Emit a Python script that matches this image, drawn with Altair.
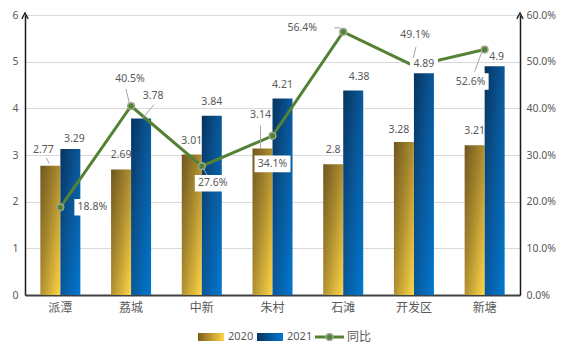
import altair as alt
import pandas as pd

# ---------------- data ----------------
categories = ["派潭", "荔城", "中新", "朱村", "石滩", "开发区", "新塘"]
series_names = ["2020", "2021"]
values_2020 = [2.77, 2.69, 3.01, 3.14, 2.80, 3.28, 3.21]
values_2021 = [3.13, 3.78, 3.84, 4.21, 4.38, 4.75, 4.90]   # bar heights as drawn
labels_2020 = ["2.77", "2.69", "3.01", "3.14", "2.8", "3.28", "3.21"]
labels_2021 = ["3.29", "3.78", "3.84", "4.21", "4.38", "4.89", "4.9"]
yoy_values = [0.188, 0.405, 0.276, 0.341, 0.564, 0.491, 0.526]
yoy_labels = ["18.8%", "40.5%", "27.6%", "34.1%", "56.4%", "49.1%", "52.6%"]
left_ticks = [0, 1, 2, 3, 4, 5, 6]
right_ticks = [0, 0.1, 0.2, 0.3, 0.4, 0.5, 0.6]

bars_df = pd.DataFrame({
    "cat": categories * 2,
    "series": [series_names[0]] * 7 + [series_names[1]] * 7,
    "value": values_2020 + values_2021,
    "label": labels_2020 + labels_2021,
})
bars_df["key"] = bars_df["cat"] + "|" + bars_df["series"]
line_df = pd.DataFrame({"cat": categories, "pct": yoy_values, "label": yoy_labels})

# ---------------- styles ----------------
W, H = 495, 280
TXT = "#595959"
NUM_FONT = "Noto Sans"
CJK_FONT = "Noto Sans CJK SC"
GREEN = "#548235"
LEADER = "#A6A6A6"
BOX = "M-1,-0.46H1V0.46H-1Z"

gold = alt.Gradient(gradient="linear", x1=0, y1=0, x2=1, y2=1, stops=[
    alt.GradientStop(color="#6F5620", offset=0),
    alt.GradientStop(color="#A8892E", offset=0.45),
    alt.GradientStop(color="#FFD646", offset=1)])
blue = alt.Gradient(gradient="linear", x1=0, y1=0, x2=1, y2=1, stops=[
    alt.GradientStop(color="#06345F", offset=0),
    alt.GradientStop(color="#0A5595", offset=0.45),
    alt.GradientStop(color="#0078D0", offset=1)])

x_enc = alt.X("cat:N", sort=categories,
              scale=alt.Scale(domain=categories, paddingInner=0.434, paddingOuter=0.217),
              axis=alt.Axis(title=None, labelAngle=0, ticks=False, grid=False,
                            domainColor="#404040", domainWidth=2,
                            labelFont=CJK_FONT, labelFontSize=12, labelColor=TXT,
                            labelPadding=7))
y_left = alt.Y("value:Q", scale=alt.Scale(domain=[0, 6], nice=False),
               axis=alt.Axis(title=None, values=left_ticks, format="d", grid=True,
                             gridColor="#D9D9D9", gridWidth=1, ticks=False,
                             domainColor="#1a1a1a", domainWidth=1.5, orient="left",
                             labelFont=NUM_FONT, labelFontSize=10.5, labelColor=TXT,
                             labelPadding=7))
y_left_noaxis = alt.Y("value:Q", scale=alt.Scale(domain=[0, 6], nice=False), axis=None)
y_right = alt.Y("pct:Q", scale=alt.Scale(domain=[0, 0.6], nice=False),
                axis=alt.Axis(title=None, values=right_ticks, format=".1%", grid=False,
                              ticks=False, domainColor="#1a1a1a", domainWidth=1.5,
                              orient="right", labelFont=NUM_FONT, labelFontSize=10.5,
                              labelColor=TXT, labelPadding=6))
xoff = alt.XOffset("series:N", scale=alt.Scale(domain=series_names, paddingInner=0, paddingOuter=0))

bars = alt.Chart(bars_df).mark_bar(size=20).encode(
    x=x_enc, y=y_left, xOffset=xoff,
    fill=alt.condition(alt.datum.series == "2020", alt.value(gold), alt.value(blue)),
)


def leader(chart_base, path, enc):
    # thin grey label leader line, drawn as a pixel-unit symbol path (size 4 -> scale 1)
    return chart_base.mark_point(shape=path, size=4, filled=False, stroke=LEADER,
                                 strokeWidth=1, opacity=1).encode(**enc)


# ---- line + its labels ----
line = alt.Chart(line_df).mark_line(color=GREEN, strokeWidth=3).encode(x=x_enc, y=y_right)
pts = alt.Chart(line_df).mark_point(filled=True, size=45, fill=GREEN, stroke="#9AA68F",
                                    strokeWidth=1.5, opacity=1).encode(x=x_enc, y=y_right)

placements = {
    "派潭": (32, 0, True, None),
    "荔城": (-1, -27, False, "M-5,-17L-2,-4"),
    "中新": (11, 17, True, "M2,3L6,10"),
    "朱村": (0, 28, True, None),
    "石滩": (-41, -4, False, "M-9,-4L-3,-4"),
    "开发区": (1, -31, False, "M2,-19L-1,-6"),
    "新塘": (-14, 32, True, "M-3,3L-10,22"),
}
leader_layers, label_layers = [], []
for cat, (dx, dy, box, path) in placements.items():
    base = alt.Chart(line_df).transform_filter(alt.datum.cat == cat)
    if path:
        leader_layers.append(leader(base, path, dict(x=x_enc, y=y_right)))
    if box:
        label_layers.append(base.mark_point(
            shape=BOX, size=36 * 36, filled=True, fill="white",
            opacity=1, strokeWidth=0, xOffset=dx, yOffset=dy
        ).encode(x=x_enc, y=y_right))
    label_layers.append(base.mark_text(
        dx=dx, dy=dy, baseline="middle", font=NUM_FONT, fontSize=10.5, color=TXT
    ).encode(x=x_enc, y=y_right, text="label:N"))

line_layer = alt.layer(*leader_layers, line, pts, *label_layers)

# ---- bar labels (drawn on top) ----
bar_label_moves = {
    "派潭|2020": (-7, -16, False, "M-1,-2L-4,-8"),
    "派潭|2021": (4, -10, False, None),
    "荔城|2021": (12, -23, False, "M13,-14L2,-1"),
    "朱村|2020": (-2, -33, False, "M-2,-23L-2,0"),
    "石滩|2021": (6, -14, False, None),
    "开发区|2020": (-5, -12, False, None),
    "开发区|2021": (0, -9, True, None),
    "新塘|2021": (2, -9, False, None),
}
bar_text_layers = [
    alt.Chart(bars_df).transform_filter(
        {"not": {"field": "key", "oneOf": list(bar_label_moves)}}
    ).mark_text(baseline="middle", dy=-14, font=NUM_FONT, fontSize=10.5, color=TXT
                ).encode(x=x_enc, y=y_left_noaxis, xOffset=xoff, text="label:N")
]
for key, (dx, dy, box, path) in bar_label_moves.items():
    base = alt.Chart(bars_df).transform_filter(alt.datum.key == key)
    if path:
        bar_text_layers.append(leader(base, path, dict(x=x_enc, y=y_left_noaxis, xOffset=xoff)))
    if box:
        bar_text_layers.append(base.mark_point(
            shape=BOX, size=28 * 28, filled=True, fill="white",
            opacity=1, strokeWidth=0, xOffset=dx, yOffset=dy
        ).encode(x=x_enc, y=y_left_noaxis, xOffset=xoff))
    bar_text_layers.append(base.mark_text(
        baseline="middle", dx=dx, dy=dy, font=NUM_FONT, fontSize=10.5, color=TXT
    ).encode(x=x_enc, y=y_left_noaxis, xOffset=xoff, text="label:N"))

bar_text_layer = alt.layer(*bar_text_layers)

# ---- axis arrows and legend (decorations) ----
one = pd.DataFrame({"k": [0]})
arrow_left = alt.Chart(one).mark_point(shape="M-1,0.9L0,-1L1,0.9", size=40, filled=False,
                                       stroke="#1a1a1a", strokeWidth=1.3, opacity=1).encode(
    x=alt.value(0), y=alt.value(1))
arrow_right = alt.Chart(one).mark_point(shape="M-1,0.9L0,-1L1,0.9", size=40, filled=False,
                                        stroke="#1a1a1a", strokeWidth=1.3, opacity=1).encode(
    x=alt.value(W), y=alt.value(1))

LY = H + 42
sw20 = alt.Chart(one).mark_rect(fill=alt.Gradient(gradient="linear", x1=0, y1=0, x2=1, y2=0, stops=[
    alt.GradientStop(color="#7A5E1C", offset=0), alt.GradientStop(color="#FFD646", offset=1)])).encode(
    x=alt.value(173), x2=alt.value(199), y=alt.value(LY - 4), y2=alt.value(LY + 4))
tx20 = alt.Chart(one).mark_text(text="2020", align="left", baseline="middle", font=NUM_FONT,
                                fontSize=11, color=TXT).encode(x=alt.value(203), y=alt.value(LY))
sw21 = alt.Chart(one).mark_rect(fill=alt.Gradient(gradient="linear", x1=0, y1=0, x2=1, y2=0, stops=[
    alt.GradientStop(color="#06345F", offset=0), alt.GradientStop(color="#0078D0", offset=1)])).encode(
    x=alt.value(232), x2=alt.value(258), y=alt.value(LY - 4), y2=alt.value(LY + 4))
tx21 = alt.Chart(one).mark_text(text="2021", align="left", baseline="middle", font=NUM_FONT,
                                fontSize=11, color=TXT).encode(x=alt.value(262), y=alt.value(LY))
lg_line = alt.Chart(one).mark_rule(color=GREEN, strokeWidth=3).encode(
    x=alt.value(290), x2=alt.value(319), y=alt.value(LY))
lg_pt = alt.Chart(one).mark_point(filled=True, size=45, fill=GREEN, stroke="#9AA68F",
                                  strokeWidth=1.5, opacity=1).encode(x=alt.value(304.5), y=alt.value(LY))
tx_yoy = alt.Chart(one).mark_text(text="同比", align="left", baseline="middle", font=CJK_FONT,
                                  fontSize=12, color=TXT).encode(x=alt.value(322), y=alt.value(LY))

chart = alt.layer(
    bars, line_layer, bar_text_layer, arrow_left, arrow_right,
    sw20, tx20, sw21, tx21, lg_line, lg_pt, tx_yoy
).resolve_scale(y="independent").properties(
    width=W, height=H,
    autosize=alt.AutoSizeParams(type="none"),
    padding={"left": 17, "top": 7, "right": 40, "bottom": 49},
).configure_view(stroke=None).configure(background="white")

chart.save("out.html", embed_options={"renderer": "svg", "actions": False})
